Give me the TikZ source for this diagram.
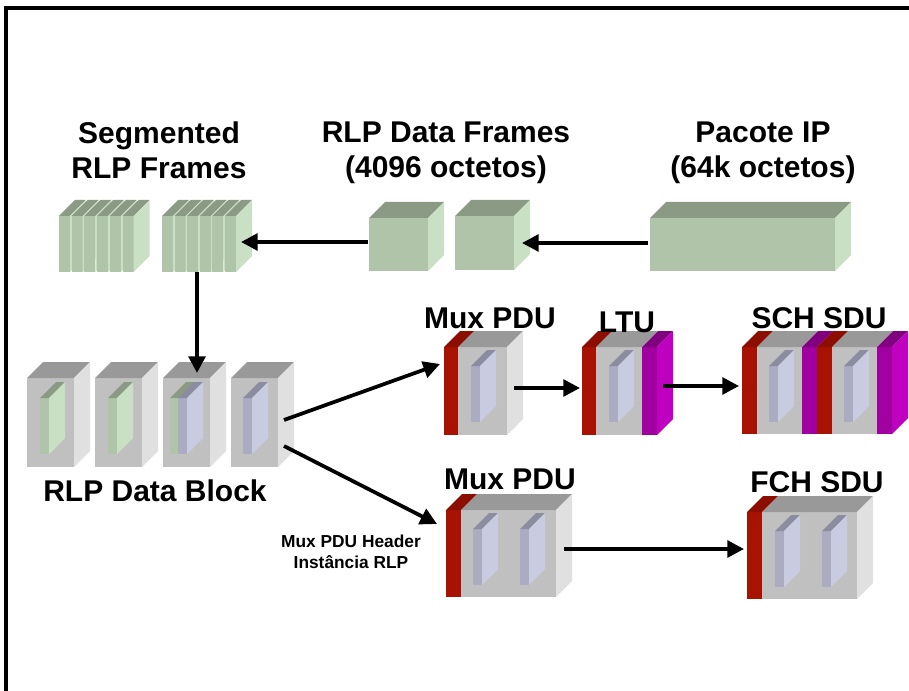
\documentclass[tikz,border=0pt]{standalone}
\usepackage{fontspec}
\setmainfont{Liberation Sans}
\usepackage{xcolor}
\usetikzlibrary{arrows.meta}

\definecolor{grnTop}{HTML}{8A9A85}
\definecolor{grnFront}{HTML}{AFC4A9}
\definecolor{grnSide}{HTML}{C9E0C4}
\definecolor{gryTop}{HTML}{999999}
\definecolor{gryFront}{HTML}{C0C0C0}
\definecolor{grySide}{HTML}{E0E0E0}
\definecolor{sltTop}{HTML}{8C8CA0}
\definecolor{sltFront}{HTML}{ABABC1}
\definecolor{sltSide}{HTML}{C9CBE0}
\definecolor{hdrFront}{HTML}{A81200}
\definecolor{hdrTop}{HTML}{8B0E00}
\definecolor{ltuFront}{HTML}{A000A0}
\definecolor{ltuTop}{HTML}{800080}
\definecolor{ltuSide}{HTML}{C000C0}

% box with front corner at (x,y), width, height, then front/top/side colours
\newcommand{\cubeblk}[7]{%
  \fill[#5] (#1,#2) rectangle ++(#3,#4);
  \fill[#6] (#1,#2) -- ++(16,-16) -- ++(#3,0) -- ++(-16,16) -- cycle;
  \fill[#7] ({#1+#3},#2) -- ++(16,-16) -- ++(0,#4) -- ++(-16,16) -- cycle;
}
\newcommand{\grnblk}[4]{\cubeblk{#1}{#2}{#3}{#4}{grnFront}{grnTop}{grnSide}}
\newcommand{\gryblk}[4]{\cubeblk{#1}{#2}{#3}{#4}{gryFront}{gryTop}{grySide}}
\newcommand{\sltblk}[2]{\cubeblk{#1}{#2}{9}{56}{sltFront}{sltTop}{sltSide}}
\newcommand{\hdrblk}[3]{\cubeblk{#1}{#2}{15}{#3}{hdrFront}{hdrTop}{hdrFront}}
\newcommand{\ltublk}[3]{\cubeblk{#1}{#2}{15}{#3}{ltuFront}{ltuTop}{ltuSide}}

\begin{document}
\begin{tikzpicture}[
  x=0.75pt, y=-0.75pt,
  title/.style={font=\fontsize{22.5}{26.25}\selectfont\bfseries, align=center, inner sep=0pt},
  note/.style={font=\fontsize{13}{15.75}\selectfont\bfseries, align=center, inner sep=0pt},
  flow/.style={-{Triangle[length=12.5pt,width=12.5pt]}, line width=2.8pt}
]
  \useasboundingbox (0,0) rectangle (909,691);
  \draw[line width=2.6pt] (6,691) -- (6,8) -- (909,8);

  % IP packet and RLP data frames
  \grnblk{650}{218}{185}{53}
  \grnblk{369}{218}{59}{53}
  \grnblk{455}{216}{59}{54}

  % segmented frames
  \foreach \i in {0,...,5}
    \grnblk{59+12.7*\i}{216}{11}{56};
  \foreach \i in {0,...,5}
    \grnblk{162+12.6*\i}{216}{11}{56};

  % RLP data block
  \foreach \bx in {27,95,163,231}
    \gryblk{\bx}{378}{47}{89};
  \cubeblk{40}{398}{9}{56}{grnFront}{grnTop}{grnSide}
  \cubeblk{108}{398}{9}{56}{grnFront}{grnTop}{grnSide}
  \cubeblk{170}{398}{9}{56}{grnFront}{grnTop}{grnSide}
  \sltblk{178}{398}
  \sltblk{243}{398}

  % mux pdu (upper)
  \hdrblk{444}{347}{88}
  \gryblk{458}{347}{49}{88}
  \sltblk{471}{366}

  % ltu
  \hdrblk{582}{347}{88}
  \gryblk{596}{347}{46}{88}
  \ltublk{642}{347}{88}
  \sltblk{609}{366}

  % sch sdu
  \foreach \ux in {742,817}{
    \hdrblk{\ux}{347}{87}
    \gryblk{\ux+15}{347}{45}{87}
    \ltublk{\ux+60}{347}{87}
    \sltblk{\ux+27}{366}
  }

  % mux pdu (lower)
  \hdrblk{446}{510}{87}
  \gryblk{461}{510}{95}{87}
  \draw[gryFront!80!black, very thin] (501,510) -- (517,494);
  \sltblk{473}{529}
  \sltblk{520}{529}

  % fch sdu
  \hdrblk{747}{512}{87}
  \gryblk{762}{512}{95}{87}
  \draw[gryFront!80!black, very thin] (802,512) -- (818,496);
  \sltblk{775}{531}
  \sltblk{822}{531}

  \node[title] (SEG) at (159,150) {Segmented\\RLP Frames};
  \node[title] (FRM) at (446,153) {RLP Data Frames\\(4096 octetos)};
  \node[title] (IP) at (763,153) {Pacote IP\\(64k octetos)};
  \node[title, anchor=base] (MUXA) at (490,328) {Mux PDU};
  \node[title, anchor=base] (LTU) at (627,332) {LTU};
  \node[title, anchor=base] (SCH) at (819,328) {SCH SDU};
  \node[title, anchor=base] (BLK) at (155,501) {RLP Data Block};
  \node[title, anchor=base] (MUXB) at (510,489) {Mux PDU};
  \node[title, anchor=base] (FCH) at (817,492) {FCH SDU};
  \node[note] (HDR) at (351,552) {Mux PDU Header\\Instância RLP};

  \coordinate (ip-w) at (648,243);
  \coordinate (frm-e) at (522,243);
  \coordinate (frm-w) at (368,242);
  \coordinate (seg-e) at (241,242);
  \coordinate (seg-s) at (197,272);
  \coordinate (blk-n) at (197,373);
  \coordinate (blk-e1) at (284,420);
  \coordinate (blk-e2) at (284,446);
  \coordinate (muxa-w) at (440,364);
  \coordinate (muxa-e) at (514,388);
  \coordinate (ltu-w) at (580,388);
  \coordinate (ltu-e) at (663,386);
  \coordinate (sch-w) at (739,386);
  \coordinate (muxb-w) at (437,524);
  \coordinate (muxb-e) at (564,549);
  \coordinate (fch-w) at (744,549);

  \draw[flow] (ip-w) -- (frm-e);
  \draw[flow] (frm-w) -- (seg-e);
  \draw[flow] (seg-s) -- (blk-n);
  \draw[flow] (blk-e1) -- (muxa-w);
  \draw[flow] (blk-e2) -- (muxb-w);
  \draw[flow] (muxa-e) -- (ltu-w);
  \draw[flow] (ltu-e) -- (sch-w);
  \draw[flow] (muxb-e) -- (fch-w);
\end{tikzpicture}
\end{document}
